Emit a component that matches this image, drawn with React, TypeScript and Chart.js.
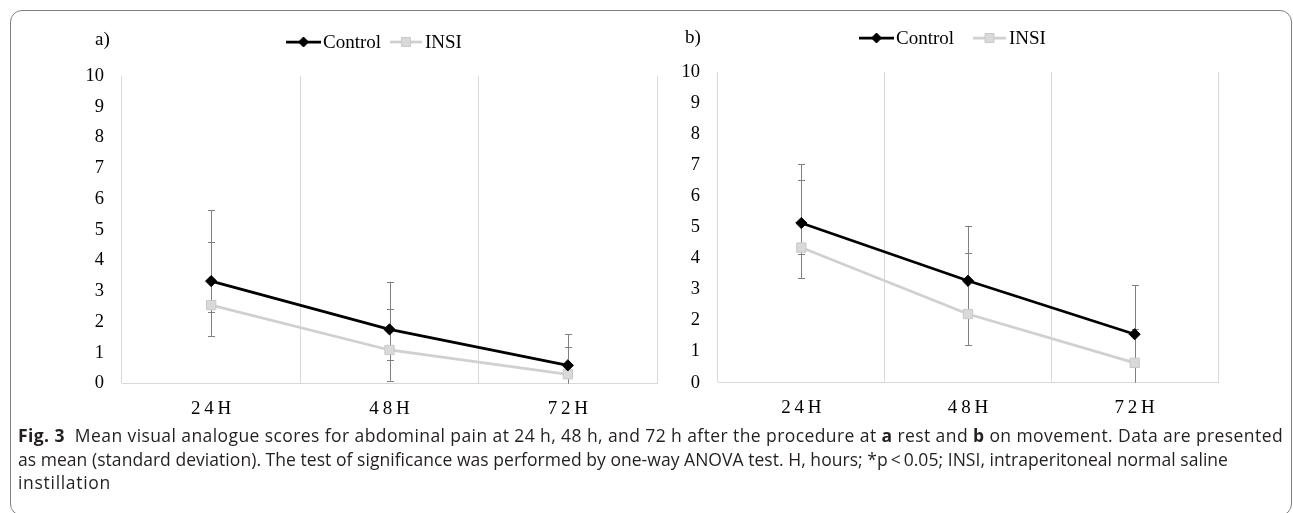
import React, { useEffect, useLayoutEffect, useRef } from "react";
import { Chart, registerables } from "chart.js";

Chart.register(...registerables);

// ---------- data ----------
const categories = ["24H", "48H", "72H"];
const seriesNames = ["Control", "INSI"];
const yMin = 0;
const yMax = 10;
const yStep = 1;

// a) at rest
const restControl = [3.33, 1.76, 0.59];
const restControlHigh = [5.64, 3.31, 1.61];
const restControlLow = [2.32, 0.76, 0];
const restInsi = [2.55, 1.09, 0.3];
const restInsiHigh = [4.61, 2.42, 1.2];
const restInsiLow = [1.55, 0.09, 0];

// b) on movement
const moveControl = [5.14, 3.28, 1.56];
const moveControlHigh = [7.03, 5.05, 3.14];
const moveControlLow = [4.14, 2.28, 0.56];
const moveInsi = [4.35, 2.21, 0.64];
const moveInsiHigh = [6.52, 4.18, 1.72];
const moveInsiLow = [3.36, 1.21, 0];

const panelTags = ["a)", "b)"];

// ---------- styles ----------
const SERIF = "'Liberation Serif', 'Times New Roman', serif";
const CONTROL_COLOR = "#000000";
const INSI_LINE = "#d0d0d0";
const INSI_FILL = "#d9d9d9";
const INSI_EDGE = "#c9c9c9";
const ERR_COLOR = "#808080";
const GRID_COLOR = "#d9d9d9";

type Bars = { high: number[]; low: number[] }[];

function makeErrorBars(bars: Bars) {
  return {
    id: "errorBars",
    beforeDatasetsDraw(chart: any) {
      const x = chart.scales.x;
      const y = chart.scales.y;
      const ctx = chart.ctx as CanvasRenderingContext2D;
      ctx.save();
      ctx.strokeStyle = ERR_COLOR;
      ctx.lineWidth = 1;
      bars.forEach((b) => {
        b.high.forEach((hi, i) => {
          const lo = b.low[i];
          const px = Math.round(x.getPixelForValue(i)) + 0.5;
          ctx.beginPath();
          ctx.moveTo(px, y.getPixelForValue(hi));
          ctx.lineTo(px, y.getPixelForValue(lo));
          ctx.stroke();
          [hi, lo].forEach((v) => {
            if (v <= 0) return;
            const py = Math.round(y.getPixelForValue(v)) + 0.5;
            ctx.beginPath();
            ctx.moveTo(px - 3.5, py);
            ctx.lineTo(px + 3.5, py);
            ctx.stroke();
          });
        });
      });
      ctx.restore();
    },
  };
}

type LegendLayout = {
  tagX: number;
  tagY: number;
  y: number;
  items: { x1: number; x2: number; textX: number }[];
};

function drawDiamond(ctx: CanvasRenderingContext2D, x: number, y: number, r: number) {
  ctx.beginPath();
  ctx.moveTo(x - r, y);
  ctx.lineTo(x, y - r);
  ctx.lineTo(x + r, y);
  ctx.lineTo(x, y + r);
  ctx.closePath();
}

function makeLegend(tag: string, lay: LegendLayout) {
  return {
    id: "refLegend",
    afterDraw(chart: any) {
      const ctx = chart.ctx as CanvasRenderingContext2D;
      ctx.save();
      ctx.font = `19px ${SERIF}`;
      ctx.fillStyle = "#000";
      ctx.textBaseline = "middle";
      ctx.textAlign = "left";
      ctx.fillText(tag, lay.tagX, lay.tagY);
      chart.data.datasets.forEach((ds: any, i: number) => {
        const it = lay.items[i];
        if (!it) return;
        const y = lay.y;
        ctx.strokeStyle = ds.borderColor;
        ctx.lineWidth = ds.borderWidth;
        ctx.beginPath();
        ctx.moveTo(it.x1, y);
        ctx.lineTo(it.x2, y);
        ctx.stroke();
        const mx = (it.x1 + it.x2) / 2;
        ctx.fillStyle = ds.pointBackgroundColor;
        ctx.strokeStyle = ds.pointBorderColor;
        ctx.lineWidth = 1;
        if (ds.pointStyle === "rectRot") {
          drawDiamond(ctx, mx, y, 5);
          ctx.fill();
          ctx.stroke();
        } else {
          ctx.beginPath();
          ctx.rect(mx - 4.5, y - 4.5, 9, 9);
          ctx.fill();
          ctx.stroke();
        }
        ctx.fillStyle = "#000";
        ctx.fillText(ds.label, it.textX, y + 1);
      });
      ctx.restore();
    },
  };
}

type PanelProps = {
  left: number;
  width: number;
  height: number;
  padding: { left: number; right: number; top: number; bottom: number };
  tag: string;
  legend: LegendLayout;
  control: number[];
  insi: number[];
  bars: Bars;
};

function Panel(p: PanelProps) {
  const ref = useRef<HTMLCanvasElement>(null);
  useEffect(() => {
    if (!ref.current) return;
    const chart = new Chart(ref.current, {
      type: "line",
      data: {
        labels: categories.map((c) => c.split("").join("\u2009")),
        datasets: [
          {
            label: seriesNames[0],
            data: p.control,
            borderColor: CONTROL_COLOR,
            borderWidth: 2.75,
            pointStyle: "rectRot",
            pointRadius: 5.6,
            pointBackgroundColor: CONTROL_COLOR,
            pointBorderColor: CONTROL_COLOR,
            pointBorderWidth: 1,
            tension: 0,
            fill: false,
          },
          {
            label: seriesNames[1],
            data: p.insi,
            borderColor: INSI_LINE,
            borderWidth: 2.75,
            pointStyle: "rect",
            pointRadius: 6.6,
            pointBackgroundColor: INSI_FILL,
            pointBorderColor: INSI_EDGE,
            pointBorderWidth: 1,
            tension: 0,
            fill: false,
          },
        ],
      },
      options: {
        animation: false,
        responsive: false,
        devicePixelRatio: 1,
        layout: { padding: p.padding },
        font: { family: SERIF },
        plugins: {
          legend: { display: false },
          tooltip: { enabled: false },
          title: { display: false },
        },
        scales: {
          x: {
            type: "category",
            offset: true,
            grid: {
              display: true,
              offset: true,
              color: GRID_COLOR,
              lineWidth: 1,
              drawTicks: false,
            },
            border: { display: true, color: GRID_COLOR, width: 1 },
            ticks: {
              color: "#000",
              font: { family: SERIF, size: 19 },
              padding: 14,
              maxRotation: 0,
              autoSkip: false,
            },
            afterFit: (s: any) => {
              s.height = 40;
            },
          },
          y: {
            min: yMin,
            max: yMax,
            grid: { display: false, drawTicks: false },
            border: { display: false },
            ticks: {
              stepSize: yStep,
              color: "#000",
              font: { family: SERIF, size: 18.5 },
              padding: 18,
            },
            afterFit: (s: any) => {
              s.width = 40;
            },
          },
        },
      } as any,
      plugins: [makeErrorBars(p.bars), makeLegend(p.tag, p.legend)],
    });
    return () => chart.destroy();
  }, []);
  return (
    <canvas
      ref={ref}
      width={p.width}
      height={p.height}
      style={{ position: "absolute", left: p.left, top: 0, width: p.width, height: p.height }}
    />
  );
}

// target widths (px) of the three caption lines
const CAPTION_TARGETS = [1265, 1210, 93];

function Caption() {
  const ref = useRef<HTMLDivElement>(null);
  useLayoutEffect(() => {
    const el = ref.current;
    if (!el) return;
    const lines = Array.from(el.querySelectorAll(".cl")) as HTMLElement[];
    lines.forEach((ln, i) => {
      const w = ln.getBoundingClientRect().width;
      const n = (ln.textContent || "").length;
      ln.style.letterSpacing = (CAPTION_TARGETS[i] - w) / n + "px";
    });
  }, []);
  return (
    <div
      ref={ref}
      style={{
        position: "absolute",
        left: 18,
        top: 424,
        fontFamily: "'Open Sans', 'Noto Sans', sans-serif",
        fontSize: 17.5,
        lineHeight: "23.5px",
        color: "#231f20",
        whiteSpace: "nowrap",
      }}
    >
      <span className="cl" style={{ display: "inline-block" }}>
        <b style={{ marginRight: 10 }}>Fig. 3</b>Mean visual analogue scores for abdominal pain at 24 h, 48 h, and 72 h after the procedure at <b>a</b> rest and <b>b</b> on movement. Data are presented
      </span>
      <br />
      <span className="cl" style={{ display: "inline-block" }}>
        as mean (standard deviation). The test of significance was performed by one-way ANOVA test. H, hours; *p&thinsp;&lt;&thinsp;0.05; INSI, intraperitoneal normal saline
      </span>
      <br />
      <span className="cl" style={{ display: "inline-block" }}>instillation</span>
    </div>
  );
}

export default function App() {
  return (
    <div style={{ position: "relative", width: 1293, height: 513, overflow: "hidden", background: "#fff" }}>
      <style>{`html,body{margin:0;padding:0;overflow:hidden;background:#fff}`}</style>
      <div
        style={{
          position: "absolute",
          left: 10,
          top: 10,
          width: 1282,
          height: 506,
          border: "1px solid #808080",
          borderRadius: 12,
          boxSizing: "border-box",
        }}
      />
      <Panel
        left={0}
        width={670}
        height={430}
        padding={{ left: 82, right: 13, top: 76, bottom: 6.5 }}
        tag={panelTags[0]}
        legend={{
          tagX: 95,
          tagY: 40,
          y: 42,
          items: [
            { x1: 286, x2: 321, textX: 323 },
            { x1: 390, x2: 422, textX: 425 },
          ],
        }}
        control={restControl}
        insi={restInsi}
        bars={[
          { high: restControlHigh, low: restControlLow },
          { high: restInsiHigh, low: restInsiLow },
        ]}
      />
      <Panel
        left={670}
        width={623}
        height={430}
        padding={{ left: 8, right: 75, top: 72, bottom: 7.3 }}
        tag={panelTags[1]}
        legend={{
          tagX: 15,
          tagY: 38,
          y: 38,
          items: [
            { x1: 189, x2: 224, textX: 226 },
            { x1: 303, x2: 336, textX: 339 },
          ],
        }}
        control={moveControl}
        insi={moveInsi}
        bars={[
          { high: moveControlHigh, low: moveControlLow },
          { high: moveInsiHigh, low: moveInsiLow },
        ]}
      />
      <Caption />
    </div>
  );
}
